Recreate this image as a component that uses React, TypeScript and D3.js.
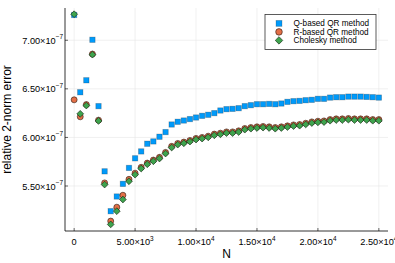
import React from "react";
import * as d3 from "d3";

// matrix sizes
const sizes = [
  0, 500, 1000, 1500, 2000, 2500, 3000, 3500, 4000, 4500, 5000, 5500, 6000, 6500, 7000, 7500, 8000,
  8500, 9000, 9500, 10000, 10500, 11000, 11500, 12000, 12500, 13000, 13500, 14000, 14500, 15000,
  15500, 16000, 16500, 17000, 17500, 18000, 18500, 19000, 19500, 20000, 20500, 21000, 21500, 22000,
  22500, 23000, 23500, 24000, 24500, 25000,
];

// errors in units of 1e-7
const qBased = [
  7.26, 6.465, 6.588, 7.005, 6.322, 5.651, 5.241, 5.392, 5.522, 5.686, 5.785, 5.856, 5.935, 5.959,
  6.007, 6.055, 6.133, 6.161, 6.174, 6.189, 6.205, 6.222, 6.233, 6.25, 6.277, 6.291, 6.294, 6.301,
  6.322, 6.332, 6.342, 6.342, 6.345, 6.342, 6.349, 6.366, 6.373, 6.376, 6.383, 6.387, 6.397, 6.397,
  6.41, 6.414, 6.414, 6.42, 6.42, 6.42, 6.417, 6.414, 6.41,
];
const rBased = [
  6.387, 6.212, 6.338, 6.858, 6.178, 5.532, 5.139, 5.282, 5.405, 5.569, 5.632, 5.692, 5.736, 5.767,
  5.795, 5.846, 5.908, 5.938, 5.952, 5.969, 5.99, 6.0, 6.013, 6.034, 6.044, 6.057, 6.057, 6.068,
  6.092, 6.102, 6.109, 6.113, 6.109, 6.102, 6.109, 6.119, 6.129, 6.133, 6.146, 6.16, 6.167, 6.17,
  6.184, 6.191, 6.191, 6.195, 6.191, 6.191, 6.191, 6.184, 6.184,
];
const cholesky = [
  7.268, 6.243, 6.328, 6.852, 6.17, 5.515, 5.105, 5.241, 5.361, 5.549, 5.617, 5.68, 5.724, 5.755,
  5.783, 5.834, 5.896, 5.926, 5.94, 5.957, 5.978, 5.988, 6.001, 6.022, 6.032, 6.045, 6.045, 6.056,
  6.08, 6.09, 6.097, 6.101, 6.097, 6.09, 6.097, 6.107, 6.117, 6.121, 6.134, 6.148, 6.155, 6.158,
  6.172, 6.179, 6.179, 6.183, 6.179, 6.179, 6.179, 6.172, 6.172,
];

const xTicks = [0, 5000, 10000, 15000, 20000, 25000];
const xTickMant = ["0", "5.00", "1.00", "1.50", "2.00", "2.50"];
const xTickExp = ["", "3", "4", "4", "4", "4"];
const yTicks = [5.5, 6.0, 6.5, 7.0];
const yTickMant = ["5.50", "6.00", "6.50", "7.00"];

const seriesNames = ["Q-based QR method", "R-based QR method", "Cholesky method"];
const colors = ["#009AFA", "#E36F47", "#3EA44E"];

const W = 395;
const H = 263;
const left = 65;
const right = 388;
const top = 8;
const bottom = 231;

const x = d3.scaleLinear().domain([-750, 25750]).range([left, right]);
const y = d3.scaleLinear().domain([5.037, 7.332]).range([bottom, top]);

const font = "'Liberation Sans', Arial, sans-serif";
const tickSize = 9.2;
const supSize = 6.4;

function Marker({ kind, cx, cy, color, s = 1 }: { kind: number; cx: number; cy: number; color: string; s?: number }) {
  if (kind === 0) {
    const h = 2.7 * s;
    return (
      <rect x={cx - h} y={cy - h} width={2 * h} height={2 * h} fill={color}
        stroke="rgba(0,0,0,0.25)" strokeWidth={0.8} />
    );
  }
  if (kind === 1) {
    return <circle cx={cx} cy={cy} r={3 * s} fill={color} stroke="#2a1a10" strokeWidth={0.6} />;
  }
  const d = 3.4 * s;
  return (
    <path d={`M${cx},${cy - d}L${cx + d},${cy}L${cx},${cy + d}L${cx - d},${cy}Z`}
      fill={color} stroke="#10200f" strokeWidth={0.6} />
  );
}

export default function App() {
  const series = [qBased, rBased, cholesky];
  return (
    <svg width={W} height={H} style={{ position: "absolute", left: 0, top: 0, background: "#fff" }}
      fontFamily={font}>
      {/* grid */}
      {xTicks.map((t) => (
        <line key={"gx" + t} x1={x(t)} x2={x(t)} y1={top} y2={bottom} stroke="#e6e6e6" strokeWidth={0.6} />
      ))}
      {yTicks.map((t) => (
        <line key={"gy" + t} x1={left} x2={right} y1={y(t)} y2={y(t)} stroke="#e6e6e6" strokeWidth={0.6} />
      ))}

      {/* axes */}
      <line x1={left} x2={left} y1={top} y2={bottom} stroke="#000" strokeWidth={0.8} />
      <line x1={left} x2={right} y1={bottom} y2={bottom} stroke="#000" strokeWidth={0.8} />
      {xTicks.map((t, i) => (
        <g key={"tx" + t}>
          <line x1={x(t)} x2={x(t)} y1={bottom} y2={bottom - 3} stroke="#000" strokeWidth={0.6} />
          <text x={x(t)} y={245} fontSize={tickSize} textAnchor="middle">
            {xTickMant[i]}
            {xTickExp[i] && (
              <>
                {"×10"}
                <tspan fontSize={supSize} dy={-4.5}>{xTickExp[i]}</tspan>
              </>
            )}
          </text>
        </g>
      ))}
      {yTicks.map((t, i) => (
        <g key={"ty" + t}>
          <line x1={left} x2={left + 3} y1={y(t)} y2={y(t)} stroke="#000" strokeWidth={0.6} />
          <text x={63} y={y(t) + 3.5} fontSize={tickSize} textAnchor="end">
            {yTickMant[i] + "×10"}
            <tspan fontSize={supSize} dy={-4.5}>−7</tspan>
          </text>
        </g>
      ))}

      {/* axis titles */}
      <text x={(left + right) / 2} y={258} fontSize={12} textAnchor="middle">N</text>
      <text transform={`translate(11,${(top + bottom) / 2}) rotate(-90)`} fontSize={12} textAnchor="middle">
        relative 2-norm error
      </text>

      {/* points */}
      {series.map((vals, s) => (
        <g key={"s" + s}>
          {vals.map((v, i) => (
            <Marker key={i} kind={s} cx={x(sizes[i])} cy={y(v)} color={colors[s]} />
          ))}
        </g>
      ))}

      {/* legend */}
      <rect x={265} y={14.5} width={111} height={35} fill="#fff" stroke="#333" strokeWidth={0.8} />
      {seriesNames.map((name, s) => (
        <g key={"l" + s}>
          <Marker kind={s} cx={279} cy={23.4 + s * 8.5} color={colors[s]} s={1.1} />
          <text x={293.5} y={23.4 + s * 8.5 + 2.9} fontSize={8.2}>{name}</text>
        </g>
      ))}
    </svg>
  );
}
